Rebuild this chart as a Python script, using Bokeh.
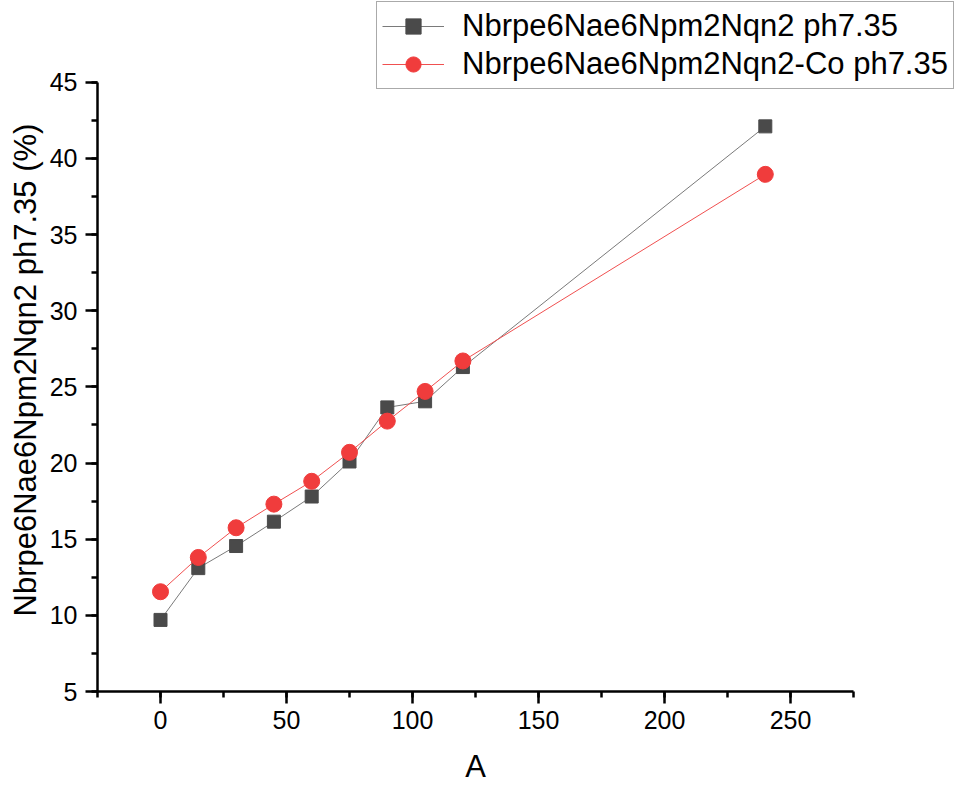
from bokeh.plotting import figure
from bokeh.models import (Range1d, SingleIntervalTicker, FixedTicker, LinearAxis,
                          Legend, LegendItem, Title)
from bokeh.embed import file_html
from bokeh.resources import INLINE

# ---- data ----
x_vals = [0, 15, 30, 45, 60, 75, 90, 105, 120, 240]
y_plain = [9.7, 13.1, 14.55, 16.15, 17.8, 20.1, 23.65, 24.05, 26.3, 42.1]
y_co = [11.55, 13.8, 15.75, 17.3, 18.8, 20.7, 22.75, 24.7, 26.7, 38.95]
series_names = ["Nbrpe6Nae6Npm2Nqn2 ph7.35", "Nbrpe6Nae6Npm2Nqn2-Co ph7.35"]
x_title = "A"
y_title = "Nbrpe6Nae6Npm2Nqn2 ph7.35 (%)"
x_axis_span = (-25, 275)
y_axis_span = (5, 45)

FONT = "Liberation Sans"

W, H = 963, 790
LEFT, BOTTOM = 97, 99
X_PX = 2.52          # pixels per x unit
Y_PX = 15.2325       # pixels per y unit
x_end = x_axis_span[0] + (W - LEFT) / X_PX
y_end = y_axis_span[0] + (H - BOTTOM) / Y_PX

p = figure(width=W, height=H,
           x_range=Range1d(x_axis_span[0], x_end),
           y_range=Range1d(y_axis_span[0], y_end),
           output_backend="svg", toolbar_location=None,
           min_border_left=LEFT, min_border_right=0,
           min_border_top=0, min_border_bottom=BOTTOM)
p.xgrid.visible = False
p.ygrid.visible = False
p.outline_line_color = None
p.background_fill_color = "white"
p.border_fill_color = "white"

p.xaxis.ticker = SingleIntervalTicker(interval=50, num_minor_ticks=2)
p.yaxis.ticker = SingleIntervalTicker(interval=5, num_minor_ticks=2)
p.xaxis.bounds = x_axis_span
p.yaxis.bounds = y_axis_span

for ax in (p.xaxis[0], p.yaxis[0]):
    ax.axis_line_width = 2.5
    ax.axis_line_color = "black"
    ax.major_tick_line_width = 2.5
    ax.minor_tick_line_width = 2.5
    ax.major_tick_line_color = "black"
    ax.minor_tick_line_color = "black"
    ax.major_tick_out = 12
    ax.major_tick_in = 0
    ax.minor_tick_out = 6
    ax.minor_tick_in = 0
    ax.major_label_text_font = FONT
    ax.major_label_text_font_size = "25px"
    ax.major_label_text_color = "black"

p.xaxis.major_label_standoff = 7
p.yaxis.major_label_standoff = 8

# x title: centred under the drawn x-axis span (a label-only axis below the first)
x_mid = (x_axis_span[0] + x_axis_span[1]) / 2
title_axis = LinearAxis(ticker=FixedTicker(ticks=[x_mid]),
                        major_label_overrides={x_mid: x_title},
                        axis_line_color=None, major_tick_line_color=None,
                        minor_tick_line_color=None, major_tick_out=0,
                        major_tick_in=0, minor_tick_out=0, minor_tick_in=0,
                        major_label_standoff=17,
                        major_label_text_font=FONT,
                        major_label_text_font_size="31px",
                        major_label_text_color="black")
p.add_layout(title_axis, "below")

# y title: starts at the bottom of the label run, placed to match the reference
yt = Title(text=y_title, align="left", offset=75,
           standoff=8, text_font=FONT, text_font_size="31px",
           text_font_style="normal", text_color="black")
p.add_layout(yt, "left")

l1 = p.line(x_vals, y_plain, line_color="#7a7a7a", line_width=1)
s1 = p.scatter(x_vals, y_plain, marker="square", size=13,
               fill_color="#4a4a4a", line_color="#4a4a4a")
l2 = p.line(x_vals, y_co, line_color="#f05050", line_width=1)
s2 = p.scatter(x_vals, y_co, marker="circle", size=16,
               fill_color="#f03c3c", line_color="#f03c3c")

legend = Legend(items=[LegendItem(label=series_names[0], renderers=[l1, s1]),
                       LegendItem(label=series_names[1], renderers=[l2, s2])],
                location=(376 - LEFT, (H - BOTTOM) - 89), padding=5,
                spacing=0, margin=0,
                glyph_width=62, glyph_height=38, label_height=38,
                label_standoff=18, label_text_font=FONT,
                label_text_font_size="31px", label_text_color="black",
                border_line_color="#555555", border_line_width=1,
                background_fill_color="white", background_fill_alpha=1)
p.add_layout(legend)

open("out.html", "w").write(file_html(p, INLINE))
